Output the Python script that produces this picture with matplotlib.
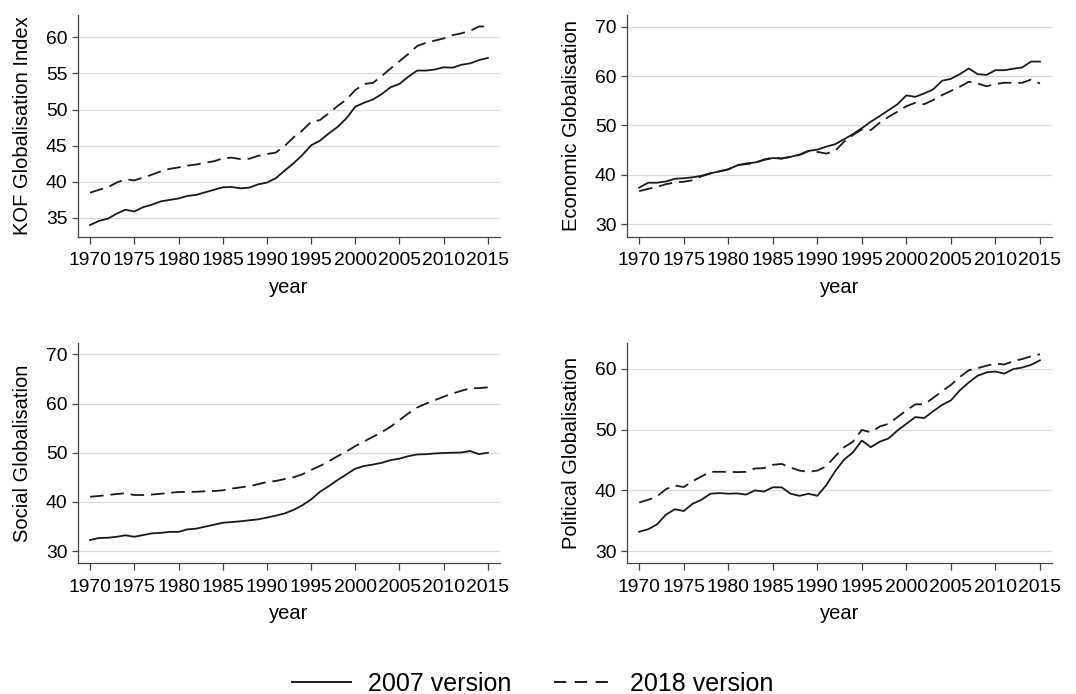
import numpy as np
import matplotlib
matplotlib.use("Agg")
import matplotlib.pyplot as plt
from matplotlib.lines import Line2D

plt.rcParams['font.family'] = ['Liberation Sans', 'DejaVu Sans']

years = list(range(1970, 2016))

# KOF overall index
kof_2007 = [34.03, 34.6, 34.9, 35.6, 36.15, 35.9, 36.5, 36.85, 37.3, 37.5,
            37.7, 38.05, 38.2, 38.55, 38.9, 39.25, 39.3, 39.1, 39.2, 39.65,
            39.9, 40.5, 41.55, 42.55, 43.7, 45.05, 45.7, 46.7, 47.6, 48.8,
            50.4, 50.95, 51.4, 52.15, 53.1, 53.55, 54.55, 55.4, 55.4, 55.55,
            55.85, 55.8, 56.2, 56.4, 56.85, 57.15]
kof_2018 = [38.5, 38.9, 39.25, 39.9, 40.35, 40.2, 40.6, 41.0, 41.45, 41.8,
            42.0, 42.25, 42.4, 42.65, 42.85, 43.25, 43.35, 43.15, 43.2, 43.6,
            43.85, 44.05, 44.95, 46.15, 47.1, 48.3, 48.55, 49.5, 50.5, 51.4,
            52.7, 53.55, 53.7, 54.65, 55.7, 56.7, 57.7, 58.8, 59.25, 59.55,
            59.85, 60.3, 60.55, 60.9, 61.5, 61.5]

# economic
eco_2007 = [37.4, 38.4, 38.4, 38.65, 39.2, 39.3, 39.5, 39.8, 40.3, 40.7,
            41.1, 41.9, 42.3, 42.5, 43.0, 43.4, 43.3, 43.65, 44.1, 44.85,
            45.1, 45.7, 46.2, 47.2, 48.25, 49.45, 50.75, 51.9, 53.1, 54.3,
            56.1, 55.8, 56.5, 57.3, 59.05, 59.45, 60.4, 61.55, 60.4, 60.25,
            61.2, 61.2, 61.5, 61.75, 62.95, 62.95]
eco_2018 = [36.7, 37.15, 37.55, 38.1, 38.45, 38.6, 38.9, 39.7, 40.3, 40.7,
            41.1, 42.0, 42.15, 42.4, 43.1, 43.5, 43.3, 43.65, 44.0, 44.8,
            44.65, 44.3, 44.85, 46.7, 48.05, 49.2, 49.05, 50.55, 51.75, 52.8,
            53.9, 54.6, 54.3, 55.15, 56.15, 57.0, 57.85, 58.85, 58.5, 57.95,
            58.4, 58.65, 58.65, 58.65, 59.3, 58.5]

# social
soc_2007 = [32.25, 32.65, 32.7, 32.9, 33.2, 32.9, 33.25, 33.6, 33.7, 33.9,
            33.9, 34.4, 34.55, 34.95, 35.35, 35.75, 35.9, 36.05, 36.25, 36.45,
            36.8, 37.2, 37.65, 38.35, 39.3, 40.5, 42.05, 43.2, 44.45, 45.6,
            46.75, 47.3, 47.6, 47.95, 48.5, 48.8, 49.3, 49.65, 49.7, 49.85,
            49.95, 50.0, 50.05, 50.35, 49.7, 50.0]
soc_2018 = [41.05, 41.2, 41.4, 41.6, 41.75, 41.4, 41.4, 41.5, 41.65, 41.85,
            42.0, 42.05, 42.05, 42.15, 42.2, 42.35, 42.7, 42.95, 43.2, 43.6,
            44.05, 44.25, 44.65, 45.0, 45.6, 46.5, 47.3, 48.25, 49.3, 50.25,
            51.35, 52.3, 53.25, 54.2, 55.3, 56.65, 58.0, 59.2, 60.0, 60.7,
            61.4, 62.05, 62.6, 63.1, 63.15, 63.3]

# political
pol_2007 = [33.2, 33.6, 34.4, 36.0, 36.9, 36.6, 37.8, 38.45, 39.45, 39.55,
            39.45, 39.5, 39.3, 40.0, 39.8, 40.5, 40.5, 39.45, 39.1, 39.45,
            39.1, 40.85, 43.15, 45.05, 46.25, 48.2, 47.1, 48.0, 48.55, 49.85,
            50.95, 52.05, 51.9, 53.0, 54.05, 54.8, 56.45, 57.75, 58.85, 59.4,
            59.55, 59.2, 59.95, 60.2, 60.65, 61.4]
pol_2018 = [38.0, 38.45, 39.0, 40.2, 40.8, 40.55, 41.5, 42.3, 43.05, 43.05,
            43.05, 43.0, 43.05, 43.6, 43.65, 44.2, 44.35, 43.75, 43.25, 43.05,
            43.25, 43.95, 45.6, 47.1, 48.0, 49.95, 49.55, 50.5, 50.95, 52.05,
            53.15, 54.15, 54.15, 55.2, 56.3, 57.35, 58.65, 59.75, 60.1, 60.5,
            60.85, 60.7, 61.25, 61.6, 62.05, 62.4]

panels = [
    # (label, 2007, 2018, ylim, yticks, [left, bottom, width, height])
    ("KOF Globalisation Index", kof_2007, kof_2018, (32.37, 63.1),
     [35, 40, 45, 50, 55, 60], [0.0725, 0.6585, 0.392, 0.320]),
    ("Economic Globalisation", eco_2007, eco_2018, (27.4, 72.4),
     [30, 40, 50, 60, 70], [0.5827, 0.6585, 0.395, 0.320]),
    ("Social Globalisation", soc_2007, soc_2018, (27.5, 72.4),
     [30, 40, 50, 60, 70], [0.0725, 0.1883, 0.392, 0.318]),
    ("Political Globalisation", pol_2007, pol_2018, (28.0, 64.3),
     [30, 40, 50, 60], [0.5827, 0.1883, 0.395, 0.318]),
]

LW = 1.3
DASH = (0, (7.5, 3.8))
INK = "#1a1a1a"
AXC = "#444444"

fig = plt.figure(figsize=(10.76, 6.94), dpi=100)

for label, v07, v18, ylim, yticks, pos in panels:
    ax = fig.add_axes(pos)
    ax.plot(years, v07, color=INK, linewidth=LW)
    ax.plot(years, v18, color=INK, linewidth=LW, linestyle=DASH)
    ax.set_xlim(1968.63, 2016.35)
    ax.set_ylim(*ylim)
    ax.set_xticks(range(1970, 2016, 5))
    ax.set_yticks(yticks)
    ax.grid(axis="y", color="#dcdcdc", linewidth=0.9)
    ax.set_axisbelow(True)
    for s in ["top", "right"]:
        ax.spines[s].set_visible(False)
    for s in ["left", "bottom"]:
        ax.spines[s].set_color(AXC)
        ax.spines[s].set_linewidth(0.9)
    ax.tick_params(axis="x", length=5, width=0.9, color=AXC, pad=6, labelsize=13.9)
    ax.tick_params(axis="y", length=4, width=0.9, color=AXC, pad=3.5, labelsize=13.9)
    ax.set_xlabel("year", fontsize=14.5, labelpad=6)
    ax.set_ylabel(label, fontsize=14.5, labelpad=10)

# legend handles drawn with a longer dash like the original
h1 = Line2D([], [], color=INK, linewidth=1.4)
h2 = Line2D([], [], color=INK, linewidth=1.4, linestyle=(0, (6.3, 4.4)))
fig.legend([h1, h2], ["2007 version", "2018 version"], loc="center",
           bbox_to_anchor=(0.495, 0.015), ncol=2, frameon=False, fontsize=18,
           handlelength=2.35, handletextpad=0.68, columnspacing=1.72)

fig.savefig("out.png", dpi=100, facecolor="white")
